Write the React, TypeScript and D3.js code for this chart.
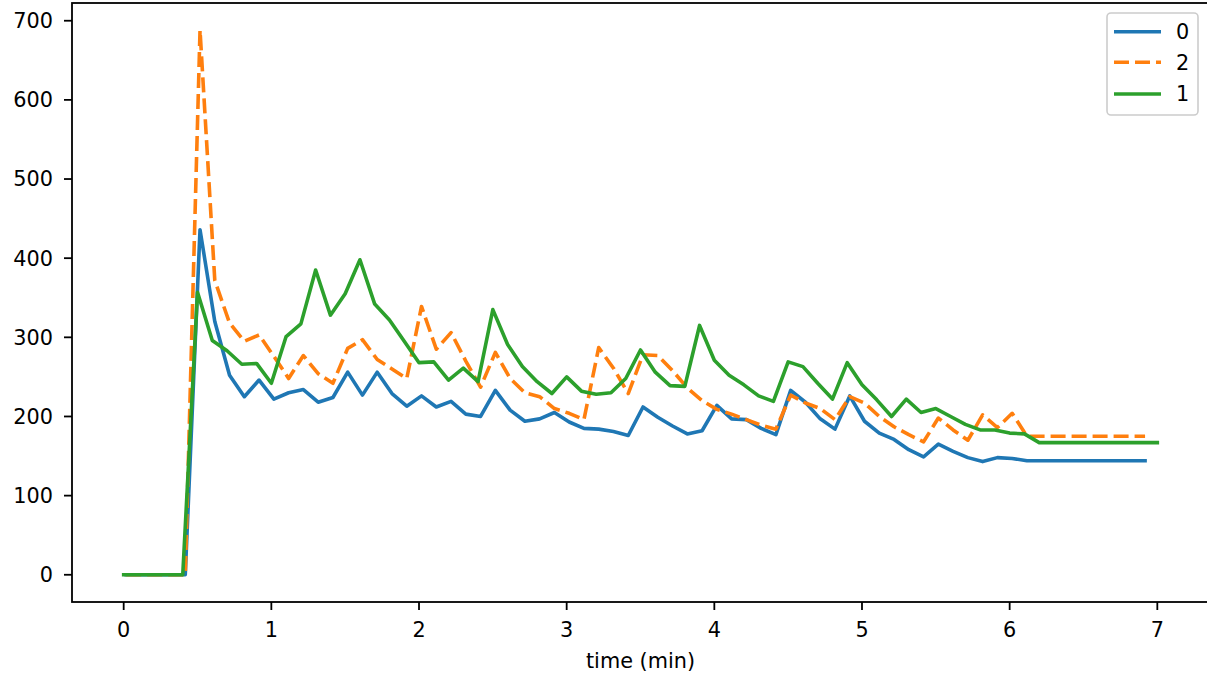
import React from "react";
import * as d3 from "d3";

// ---- data ----
const timesGreen = [
  0.0, 0.1, 0.2, 0.3, 0.4, 0.5, 0.6, 0.7, 0.8, 0.9,
  1.0, 1.1, 1.2, 1.3, 1.4, 1.5, 1.6, 1.7, 1.8, 1.9,
  2.0, 2.1, 2.2, 2.3, 2.4, 2.5, 2.6, 2.7, 2.8, 2.9,
  3.0, 3.1, 3.2, 3.3, 3.4, 3.5, 3.6, 3.7, 3.8, 3.9,
  4.0, 4.1, 4.2, 4.3, 4.4, 4.5, 4.6, 4.7, 4.8, 4.9,
  5.0, 5.1, 5.2, 5.3, 5.4, 5.5, 5.6, 5.7, 5.8, 5.9,
  6.0, 6.1, 6.2, 6.3, 6.4, 6.5, 6.6, 6.7, 6.8, 6.9,
  7.0,
];

const timesOther = [
  0.017, 0.117, 0.217, 0.317, 0.417, 0.517, 0.617, 0.717, 0.817, 0.917,
  1.017, 1.117, 1.217, 1.317, 1.417, 1.517, 1.617, 1.717, 1.817, 1.917,
  2.017, 2.117, 2.217, 2.317, 2.417, 2.517, 2.617, 2.717, 2.817, 2.917,
  3.017, 3.117, 3.217, 3.317, 3.417, 3.517, 3.617, 3.717, 3.817, 3.917,
  4.017, 4.117, 4.217, 4.317, 4.417, 4.517, 4.617, 4.717, 4.817, 4.917,
  5.017, 5.117, 5.217, 5.317, 5.417, 5.517, 5.617, 5.717, 5.817, 5.917,
  6.017, 6.117, 6.217, 6.317, 6.417, 6.517, 6.617, 6.717, 6.817, 6.917,
];

const series0 = [
  0, 0, 0, 0, 0, 436, 320, 252, 225, 246,
  222, 230, 234, 218, 224, 256, 227, 256, 229, 213,
  226, 212, 219, 203, 200, 233, 208, 194, 197, 205,
  193, 185, 184, 181, 176, 212, 199, 188, 178, 182,
  214, 197, 196, 185, 177, 233, 218, 197, 184, 226,
  194, 179, 171, 158, 149, 165, 156, 148, 143, 148,
  147, 144, 144, 144, 144, 144, 144, 144, 144, 144,
];

const series2 = [
  0, 0, 0, 0, 0, 688, 372, 318, 295, 303,
  276, 248, 277, 254, 242, 286, 297, 272, 260, 248,
  339, 285, 306, 270, 237, 281, 248, 230, 225, 210,
  204, 196, 287, 261, 229, 278, 277, 258, 236, 220,
  209, 203, 196, 189, 184, 227, 217, 210, 196, 225,
  217, 200, 187, 177, 168, 198, 183, 170, 202, 186,
  204, 175, 175, 175, 175, 175, 175, 175, 175, 175,
];

const series1 = [
  0, 0, 0, 0, 0, 357, 296, 283, 266, 267,
  242, 301, 317, 385, 328, 355, 398, 342, 322, 295,
  268, 269, 246, 261, 244, 335, 291, 263, 244, 229,
  250, 232, 228, 230, 248, 284, 256, 239, 238, 315,
  271, 252, 240, 226, 219, 269, 263, 242, 222, 268,
  240, 221, 200, 222, 205, 210, 200, 190, 183, 183,
  179, 178, 167, 167, 167, 167, 167, 167, 167, 167,
  167,
];

const seriesLabels = ["0", "2", "1"];
const xTicks = [0, 1, 2, 3, 4, 5, 6, 7];
const yTicks = [0, 100, 200, 300, 400, 500, 600, 700];
const xLabel = "time (min)";

// ---- layout ----
const W = 1207;
const H = 678;
const left = 72;
const right = 1209;
const top = 3;
const bottom = 602;
const FONT = "DejaVu Sans, sans-serif";
const FS = 20.8;

export default function App() {
  const allT = [...timesGreen, ...timesOther];
  const allV = [...series0, ...series1, ...series2];
  const [tMin, tMax] = d3.extent(allT) as [number, number];
  const [vMin, vMax] = d3.extent(allV) as [number, number];
  const tPad = (tMax - tMin) * 0.05;
  const vPad = (vMax - vMin) * 0.05;

  const x = d3.scaleLinear().domain([tMin - tPad, tMax + tPad]).range([left, right]);
  const y = d3.scaleLinear().domain([vMin - vPad, vMax + vPad]).range([bottom, top]);

  const line = d3
    .line<[number, number]>()
    .x((d) => x(d[0]))
    .y((d) => y(d[1]));

  const lines = [
    { label: seriesLabels[0], t: timesOther, v: series0, color: "#1f77b4", dash: undefined as string | undefined },
    { label: seriesLabels[1], t: timesOther, v: series2, color: "#ff7f0e", dash: "15,6" },
    { label: seriesLabels[2], t: timesGreen, v: series1, color: "#2ca02c", dash: undefined },
  ];

  const legendX = 1107;
  const legendY = 13;
  const rowY = [31.7, 62.3, 94];

  return (
    <svg
      width={W}
      height={H}
      style={{ position: "absolute", left: 0, top: 0, background: "#fff" }}
      fontFamily={FONT}
    >
      <rect x={0} y={0} width={W} height={H} fill="#fff" />
      <defs>
        <clipPath id="plotclip">
          <rect x={left} y={top} width={right - left} height={bottom - top} />
        </clipPath>
      </defs>

      <g clipPath="url(#plotclip)">
        {lines.map((s) => (
          <path
            key={s.label}
            d={line(s.t.map((t, i) => [t, s.v[i]] as [number, number])) || ""}
            fill="none"
            stroke={s.color}
            strokeWidth={3.6}
            strokeDasharray={s.dash}
            strokeLinejoin="round"
            strokeLinecap={s.dash ? "butt" : "square"}
          />
        ))}
      </g>

      {/* spines */}
      <rect
        x={left}
        y={top}
        width={right - left}
        height={bottom - top}
        fill="none"
        stroke="#000"
        strokeWidth={1.8}
      />

      {/* x ticks */}
      {xTicks.map((t) => (
        <g key={"xt" + t}>
          <line x1={x(t)} x2={x(t)} y1={bottom} y2={bottom + 8} stroke="#000" strokeWidth={1.8} />
          <text x={x(t)} y={637} textAnchor="middle" fontSize={FS} fill="#000">
            {t}
          </text>
        </g>
      ))}

      {/* y ticks */}
      {yTicks.map((v) => (
        <g key={"yt" + v}>
          <line x1={left - 8} x2={left} y1={y(v)} y2={y(v)} stroke="#000" strokeWidth={1.8} />
          <text x={53} y={y(v) + 7.4} textAnchor="end" fontSize={FS} fill="#000">
            {v}
          </text>
        </g>
      ))}

      <text x={(left + right) / 2} y={668} textAnchor="middle" fontSize={FS} fill="#000">
        {xLabel}
      </text>

      {/* legend */}
      <rect
        x={legendX}
        y={legendY}
        width={91}
        height={102}
        rx={4}
        ry={4}
        fill="#fff"
        fillOpacity={0.8}
        stroke="#cccccc"
        strokeWidth={1.6}
      />
      {lines.map((s, i) => (
        <g key={"lg" + s.label}>
          <line
            x1={1114}
            x2={1161}
            y1={rowY[i]}
            y2={rowY[i]}
            stroke={s.color}
            strokeWidth={3.6}
            strokeDasharray={s.dash}
          />
          <text x={1176} y={rowY[i] + 7.4} fontSize={FS} fill="#000">
            {s.label}
          </text>
        </g>
      ))}
    </svg>
  );
}
